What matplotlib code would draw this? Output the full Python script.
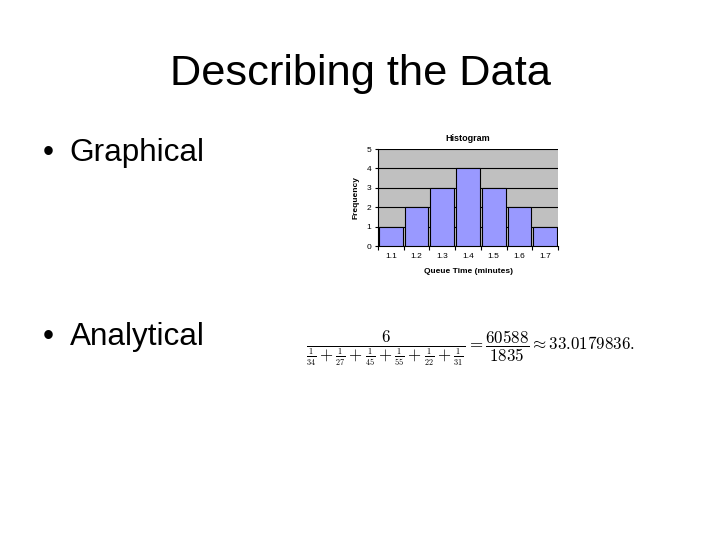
import matplotlib
matplotlib.use("Agg")
import matplotlib.pyplot as plt
import numpy as np

bins = ["1.1", "1.2", "1.3", "1.4", "1.5", "1.6", "1.7"]
freq = [1, 2, 3, 4, 3, 2, 1]
yticks = [0, 1, 2, 3, 4, 5]
denoms = [34, 27, 45, 55, 22, 31]

plt.rcParams["font.family"] = ["Liberation Sans", "DejaVu Sans"]
plt.rcParams["mathtext.fontset"] = "cm"

fig = plt.figure(figsize=(7.2, 5.4), dpi=100)
fig.patch.set_facecolor("white")

fig.text(0.5, 0.843, "Describing the Data", ha="center", va="baseline", fontsize=31.2)
# bullets
fig.text(0.060, 0.702, "\u2022", ha="left", va="baseline", fontsize=22.7)
fig.text(0.097, 0.702, "Graphical", ha="left", va="baseline", fontsize=22.7)
fig.text(0.060, 0.361, "\u2022", ha="left", va="baseline", fontsize=22.7)
fig.text(0.097, 0.361, "Analytical", ha="left", va="baseline", fontsize=22.7)

ax = fig.add_axes([0.525, 0.5444, 0.25, 0.1796])
x = np.arange(len(bins))
ax.set_facecolor("#c0c0c0")
ax.bar(x, freq, width=0.92, color="#9999ff", edgecolor="black", linewidth=0.8, zorder=3)
ax.set_xlim(-0.5, len(bins) - 0.5)
ax.set_ylim(0, 5)
ax.set_yticks(yticks)
ax.set_yticklabels([str(v) for v in yticks], fontsize=6)
ax.set_xticks(x)
ax.set_xticklabels(bins, fontsize=6)
ax.tick_params(axis="x", length=0, pad=5)
ax.set_xticks(np.arange(-0.5, len(bins)), minor=True)
ax.tick_params(axis="x", which="minor", length=3, width=0.8)
ax.tick_params(axis="y", length=2, width=0.8, pad=3)
ax.yaxis.grid(True, color="black", linewidth=0.8, zorder=0)
ax.set_axisbelow(True)
for side in ["top", "right"]:
    ax.spines[side].set_visible(False)
ax.set_title("Histogram", fontsize=6.5, fontweight="bold", pad=6)
ax.set_xlabel("Queue Time (minutes)", fontsize=6, fontweight="bold", labelpad=6)
ax.set_ylabel("Frequency", fontsize=6, fontweight="bold", labelpad=5)

inner = "+".join(r"\genfrac{}{}{0.8}{2}{1}{%d}" % d for d in denoms)
formula = (r"$\dfrac{6}{" + inner + r"}"
           r" = \dfrac{60588}{1835} \approx 33.0179836.$")
fig.text(0.653, 0.355, formula, ha="center", va="center", fontsize=12.2)

fig.savefig("out.png", dpi=100)
